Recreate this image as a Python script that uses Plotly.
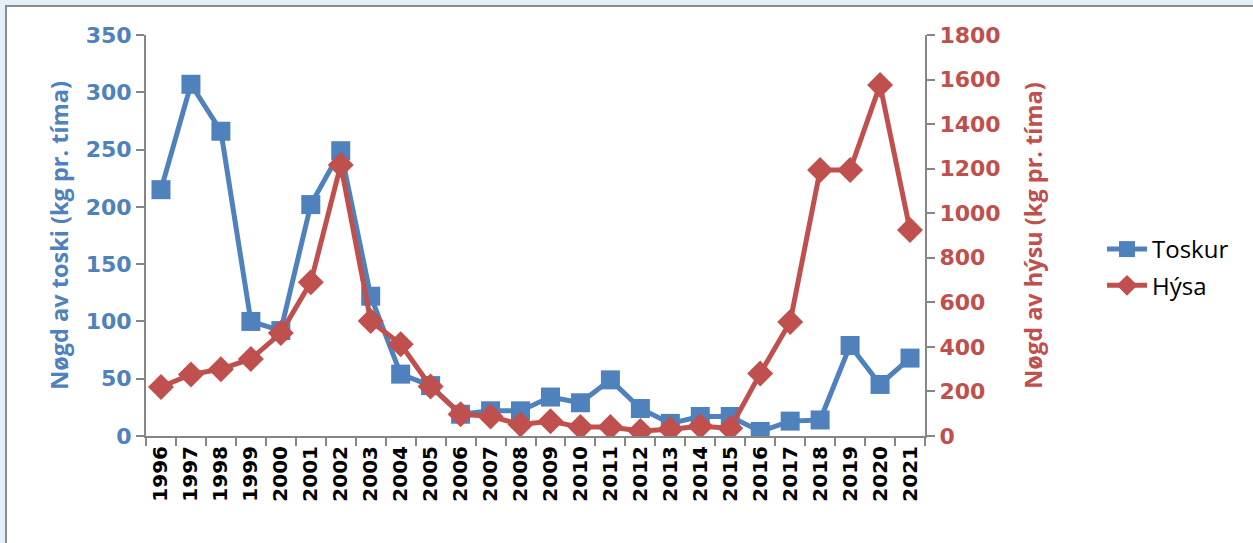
import plotly.graph_objects as go

years = [str(y) for y in range(1996, 2022)]
toskur = [215, 307, 266, 100, 92, 202, 249, 122, 54, 44, 19, 22, 22, 34, 29, 49, 24, 11, 17, 17, 4, 13, 14, 79, 45, 68]
hysa = [220, 276, 300, 346, 462, 690, 1217, 516, 412, 222, 98, 88, 52, 66, 40, 40, 22, 30, 44, 35, 280, 512, 1194, 1194, 1576, 925]

blue = "#4f81bd"
red = "#c0504d"
axis_gray = "#868686"

fig = go.Figure()
fig.add_trace(go.Scatter(
    x=years, y=toskur, name="Toskur", mode="lines+markers",
    legendgroup="a",
    line=dict(color=blue, width=5),
    marker=dict(symbol="square", size=19, color=blue),
    yaxis="y"))
fig.add_trace(go.Scatter(
    x=years, y=hysa, name="Hýsa", mode="lines+markers",
    legendgroup="b",
    line=dict(color=red, width=5),
    marker=dict(symbol="diamond", size=20, color=red),
    yaxis="y2"))

L, R, T, B = 146, 925, 35, 436
W, H = 1253, 543
pw, ph = R - L, B - T

def px(x):
    return (x - L) / pw

def py(y):
    return (B - y) / ph

tick_font = "DejaVu Sans, Verdana"
title_font = "Open Sans, DejaVu Sans"

fig.update_layout(
    width=W, height=H,
    margin=dict(l=L, r=W - R, t=T, b=H - B, pad=0),
    paper_bgcolor="#e4f0f8",
    plot_bgcolor="white",
    showlegend=True,
    legend=dict(
        x=px(1102), y=py(227), xanchor="left", yanchor="top",
        font=dict(family=title_font, size=24, color="black"),
        bgcolor="rgba(0,0,0,0)", tracegroupgap=2, itemwidth=40,
    ),
    xaxis=dict(
        type="category", tickson="boundaries",
        showgrid=False, zeroline=False,
        showline=True, linecolor=axis_gray, linewidth=2,
        ticks="outside", ticklen=8, tickcolor=axis_gray, tickwidth=1.5,
        tickangle=-90,
        tickfont=dict(family=tick_font, size=20, color="black", weight="bold"),
        range=[-0.5, 25.5],
    ),
    yaxis=dict(
        range=[0, 350], dtick=50,
        showgrid=False, zeroline=False,
        showline=True, linecolor=axis_gray, linewidth=2,
        ticks="outside", ticklen=8, tickcolor=axis_gray, tickwidth=1.5,
        tickfont=dict(family=tick_font, size=22, color=blue, weight="bold"),
        title=dict(text="Nøgd av toski (kg pr. tíma)",
                   font=dict(family=title_font, size=23.5, color=blue, weight="bold"),
                   standoff=10),
    ),
    yaxis2=dict(
        range=[0, 1800], dtick=200, overlaying="y", side="right",
        showgrid=False, zeroline=False,
        showline=True, linecolor=axis_gray, linewidth=2,
        ticks="outside", ticklen=8, tickcolor=axis_gray, tickwidth=1.5,
        tickfont=dict(family=tick_font, size=22, color=red, weight="bold"),
        title=dict(text="Nøgd av hýsu (kg pr. tíma)",
                   font=dict(family=title_font, size=23.5, color=red, weight="bold"),
                   standoff=26),
    ),
    shapes=[dict(
        type="rect", xref="paper", yref="paper", layer="below",
        x0=px(6), x1=px(1300), y0=py(600), y1=py(6),
        line=dict(color="#8c8c8c", width=2), fillcolor="white",
    )],
)

fig.write_html(
    "out.html",
    config={"displayModeBar": False},
    post_script="document.body.style.margin='0';document.body.style.overflow='hidden';",
)
